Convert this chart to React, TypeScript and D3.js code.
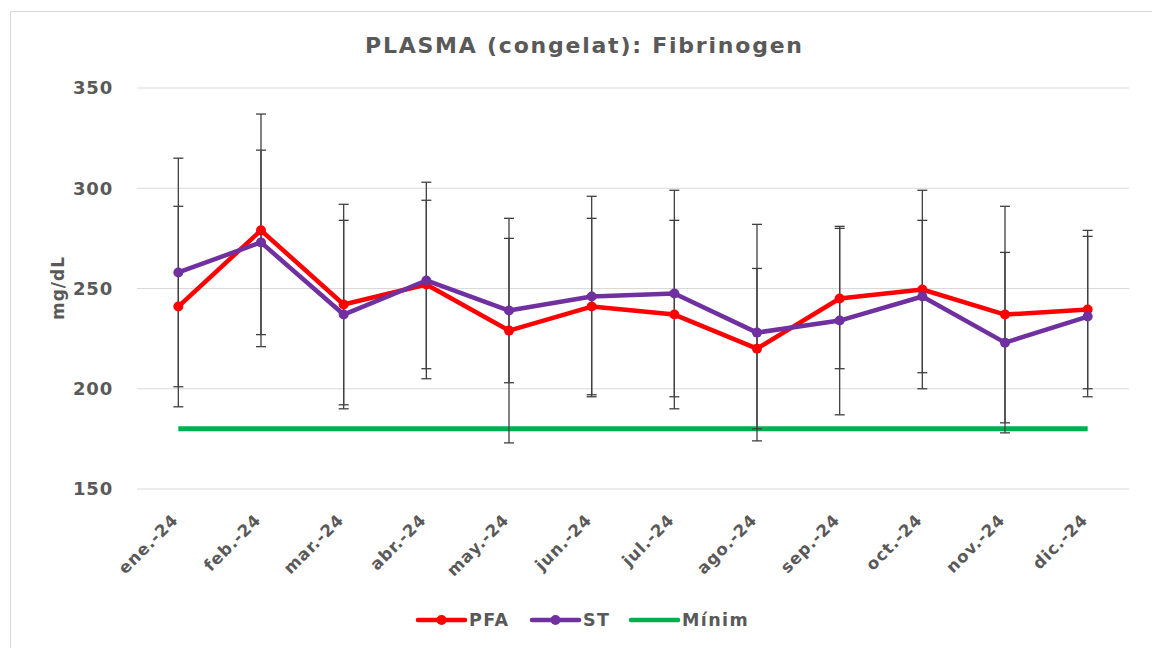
import React from "react";
import * as d3 from "d3";

const months = ["ene.-24","feb.-24","mar.-24","abr.-24","may.-24","jun.-24","jul.-24","ago.-24","sep.-24","oct.-24","nov.-24","dic.-24"];
const pfaMean = [241, 279, 242, 252, 229, 241, 237, 220, 245, 249.5, 237, 239.5];
const pfaSd = [50, 58, 50, 42, 56, 44, 47, 40, 35, 49.5, 54, 39.5];
const stMean = [258, 273, 237, 254, 239, 246, 247.5, 228, 234, 246, 223, 236];
const stSd = [57, 46, 47, 49, 36, 50, 51.5, 54, 47, 38, 45, 40];
const minim = [180,180,180,180,180,180,180,180,180,180,180,180];
const yTicks = [150, 200, 250, 300, 350];

const W = 1152, H = 648;
const FONT = "'DejaVu Sans', Verdana, sans-serif";
const GREY = "#595959";

export default function App() {
  const x = d3.scaleBand().domain(months).range([137, 1129]);
  const cx = (m: string) => (x(m) as number) + x.bandwidth() / 2;
  const y = d3.scaleLinear().domain([150, 350]).range([489, 88]);
  const line = d3.line<number>().x((_, i) => cx(months[i])).y(d => y(d));

  const series = [
    { name: "PFA", mean: pfaMean, sd: pfaSd, color: "#FF0000" },
    { name: "ST", mean: stMean, sd: stSd, color: "#7030A0" },
  ];

  return (
    <svg width={W} height={H} style={{ position: "absolute", left: 0, top: 0 }} fontFamily={FONT}>
      <rect x={0} y={0} width={W} height={H} fill="#fff" />
      <rect x={10.5} y={11.5} width={1150} height={660} fill="#fff" stroke="#d9d9d9" strokeWidth={1} />
      <text x={365} y={53} fontSize={22} fontWeight="bold" fill={GREY} textLength={437} lengthAdjust="spacing">
        PLASMA (congelat): Fibrinogen
      </text>
      {yTicks.map(t => (
        <g key={t}>
          <line x1={137} x2={1129} y1={y(t)} y2={y(t)} stroke="#d9d9d9" strokeWidth={1} />
          <text x={113} y={y(t)} dy="0.36em" textAnchor="end" fontSize={18} fontWeight="bold" fill={GREY} letterSpacing={0.8}>{t}</text>
        </g>
      ))}
      <text transform={`translate(64,288) rotate(-90)`} textAnchor="middle" fontSize={17} fontWeight="bold" fill={GREY} letterSpacing={1}>mg/dL</text>
      {months.map(m => (
        <text key={m} transform={`translate(${cx(m) + 1},${521}) rotate(-45)`} textAnchor="end" fontSize={16.5} fontWeight="bold" fill={GREY} letterSpacing={0.9}>{m}</text>
      ))}
      <path d={line(minim) as string} fill="none" stroke="#00B050" strokeWidth={5} />
      {series.map(s => (
        <g key={s.name + "eb"}>
          {s.mean.map((v, i) => {
            const xc = cx(months[i]);
            const hi = y(v + s.sd[i]), lo = y(v - s.sd[i]);
            return (
              <g key={i} stroke="#404040" strokeWidth={1.3}>
                <line x1={xc} x2={xc} y1={hi} y2={lo} />
                <line x1={xc - 5} x2={xc + 5} y1={hi} y2={hi} />
                <line x1={xc - 5} x2={xc + 5} y1={lo} y2={lo} />
              </g>
            );
          })}
        </g>
      ))}
      {series.map(s => (
        <g key={s.name}>
          <path d={line(s.mean) as string} fill="none" stroke={s.color} strokeWidth={4.5} strokeLinejoin="round" />
          {s.mean.map((v, i) => (
            <circle key={i} cx={cx(months[i])} cy={y(v)} r={5} fill={s.color} />
          ))}
        </g>
      ))}
      {[
        { name: "PFA", color: "#FF0000", x0: 418, marker: true },
        { name: "ST", color: "#7030A0", x0: 532, marker: true },
        { name: "Mínim", color: "#00B050", x0: 631, marker: false },
      ].map(l => (
        <g key={l.name}>
          <line x1={l.x0} x2={l.x0 + 47} y1={620} y2={620} stroke={l.color} strokeWidth={4.5} strokeLinecap="round" />
          {l.marker && <circle cx={l.x0 + 23.5} cy={620} r={5} fill={l.color} />}
          <text x={l.x0 + 51} y={620} dy="0.36em" fontSize={17.5} fontWeight="bold" fill={GREY} letterSpacing={1.4}>{l.name}</text>
        </g>
      ))}
    </svg>
  );
}
